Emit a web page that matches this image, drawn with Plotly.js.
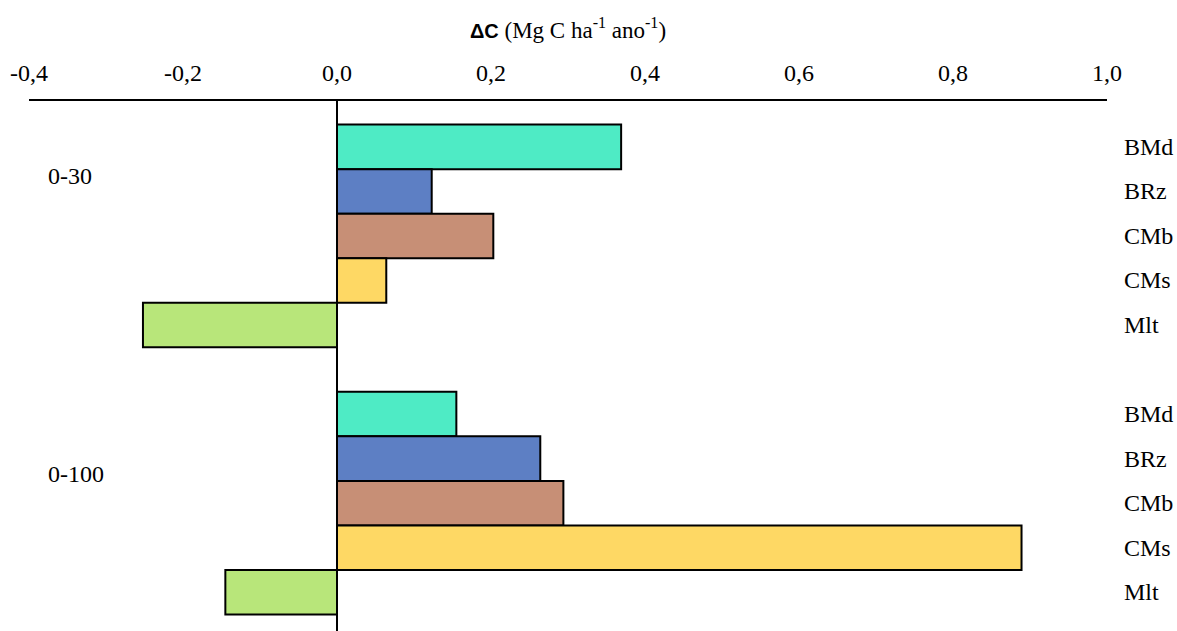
<!DOCTYPE html>
<html>
<head>
<meta charset="utf-8">
<script src="https://cdn.plot.ly/plotly-3.0.1.min.js"></script>
<style>
  html, body { margin: 0; padding: 0; background: #fff; }
  #chart { width: 1177px; height: 631px; }
</style>
</head>
<body>
<div id="chart"></div>
<script>
// Soil depth layers (cm) and land-use classes
const depths = ['0-30', '0-100'];
const classes = ['BMd', 'BRz', 'CMb', 'CMs', 'Mlt'];
const classColors = ['#4EEBC5', '#5D7FC4', '#C78F76', '#FED864', '#B8E67A'];

// Carbon stock change per class, one value per depth layer
const deltaC = {
  BMd: [0.369, 0.155],
  BRz: [0.123, 0.264],
  CMb: [0.203, 0.294],
  CMs: [0.064, 0.889],
  Mlt: [-0.252, -0.145]
};

const xTickVals = [-0.4, -0.2, 0.0, 0.2, 0.4, 0.6, 0.8, 1.0];
const xTickText = ['-0,4', '-0,2', '0,0', '0,2', '0,4', '0,6', '0,8', '1,0'];

// Each depth block holds one slot per class plus one empty slot as a spacer
const slotsPerGroup = classes.length + 1;

const traces = classes.map((cls, s) => ({
  type: 'bar',
  orientation: 'h',
  name: cls,
  x: deltaC[cls],
  y: depths.map((d, g) => g * slotsPerGroup + s),
  width: 1,
  marker: { color: classColors[s], line: { color: '#000', width: 2 } },
  hoverinfo: 'x+name'
}));

const font = '"Liberation Serif", "Times New Roman", serif';

const annotations = [];
// Class names beside each bar, right of the plot area
depths.forEach((d, g) => {
  classes.forEach((cls, s) => {
    annotations.push({
      xref: 'paper', yref: 'y',
      x: 1.0139, y: g * slotsPerGroup + s,
      xanchor: 'left', yanchor: 'middle',
      text: cls, showarrow: false,
      font: { family: font, size: 24, color: '#000' }
    });
  });
});
// Depth layer labels on the left
const depthLabelY = [0.8585, 0.2962];
depths.forEach((d, g) => {
  annotations.push({
    xref: 'paper', yref: 'paper',
    x: 17 / 1078, y: depthLabelY[g],
    xanchor: 'left', yanchor: 'middle',
    text: d, showarrow: false,
    font: { family: font, size: 24, color: '#000' }
  });
});

const layout = {
  width: 1177, height: 631,
  margin: { l: 29, r: 70, t: 101, b: 0, pad: 0 },
  paper_bgcolor: '#fff', plot_bgcolor: '#fff',
  showlegend: false,
  barmode: 'overlay',
  title: {
    text: '<span style="font-family:Liberation Sans, Arial, sans-serif;font-weight:bold;font-size:20px">ΔC</span> (Mg C ha<sup>-1</sup> ano<sup>-1</sup>)',
    font: { family: font, size: 23, color: '#000' },
    x: 0.5, xref: 'paper', xanchor: 'center',
    y: 1 - 30 / 631, yref: 'container', yanchor: 'middle'
  },
  xaxis: {
    side: 'top',
    range: [-0.4, 1.0],
    tickvals: xTickVals,
    ticktext: xTickText,
    ticks: '',
    showgrid: false,
    showline: true, linecolor: '#000', linewidth: 2,
    zeroline: true, zerolinecolor: '#000', zerolinewidth: 2,
    tickfont: { family: font, size: 24, color: '#000' },
    ticklabelstandoff: 8
  },
  yaxis: {
    range: [10.87, -1.03],
    showticklabels: false,
    ticks: '',
    showgrid: false,
    showline: false,
    zeroline: false
  },
  annotations: annotations
};

Plotly.newPlot('chart', traces, layout, { displayModeBar: false, staticPlot: true });
</script>
</body>
</html>
